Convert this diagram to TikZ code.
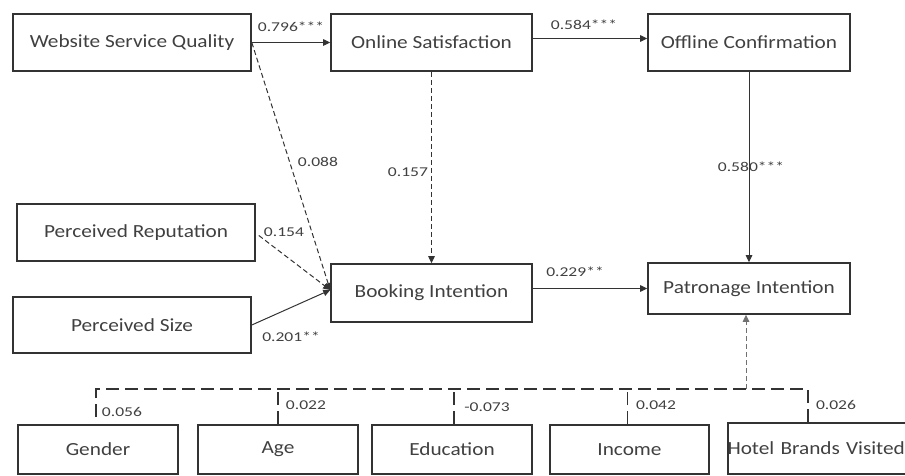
\documentclass[tikz,border=0pt]{standalone}
\usepackage{fontspec}
\setmainfont{Carlito}
\newfontfamily\boxfont[FakeStretch=1.15]{Carlito}
\newfontfamily\lblfont[FakeStretch=1.3]{Carlito}
\usetikzlibrary{arrows.meta}
\definecolor{linec}{HTML}{333333}
\definecolor{txtc}{HTML}{404040}
\begin{document}
\begin{tikzpicture}[x=1pt,y=-1pt,
  box/.style={draw=linec, line width=1.6pt, inner sep=0pt, text=txtc,
    font=\boxfont\fontsize{18.5}{21}\selectfont},
  lbl/.style={text=txtc, inner sep=0pt, font=\lblfont\fontsize{13.5}{15}\selectfont},
  arr/.style={draw=linec, line width=1pt, -{Triangle[length=7pt,width=6.5pt]}},
  darr/.style={arr, dash pattern=on 5pt off 3pt},
  brk/.style={draw=linec, line width=1.6pt, dash pattern=on 13pt off 6pt}]
\useasboundingbox (0,0) rectangle (905,476);
\clip (0,0) rectangle (905,476);
% top row
\node[box, minimum width=238pt, minimum height=57pt] (wsq) at (132,42.5) {Website Service Quality};
\node[box, minimum width=201pt, minimum height=57pt] (os) at (431.5,42.5) {Online Satisfaction};
\node[box, minimum width=202pt, minimum height=57pt] (oc) at (749,42.5) {Offline Confirmation};
% middle
\node[box, minimum width=238pt, minimum height=57pt] (pr) at (136,232.5) {Perceived Reputation};
\node[box, minimum width=238pt, minimum height=56pt] (ps) at (132,325) {Perceived Size};
\node[box, minimum width=201pt, minimum height=58pt] (bi) at (431.5,293) {Booking Intention};
\node[box, minimum width=202pt, minimum height=51pt] (pi) at (749,288.5) {Patronage Intention};
% bottom
\node[box, minimum width=160pt, minimum height=49pt] (gen) at (98,449.5) {Gender};
\node[box, minimum width=160pt, minimum height=49pt] (age) at (278,449.5) {Age};
\node[box, minimum width=160pt, minimum height=49pt] (edu) at (452,449.5) {Education};
\node[box, minimum width=159pt, minimum height=49pt] (inc) at (629.5,449.5) {Income};
\node[box, minimum width=200pt, minimum height=51pt, text width=198pt, align=left] (hot) at (828,448.5) {\hspace*{-1.5pt}Hotel Brands Visited};
% connectors
\draw[arr] (wsq.east) -- (os.west);
\draw[arr] ([yshift=4pt]os.east) -- ([yshift=4pt]oc.west);
\coordinate (bin) at ([yshift=3pt]bi.west);
\draw[darr] (wsq.east) -- (bin);
\draw[darr] ([shift={(3pt,-3pt)}]pr.east) -- (bin);
\draw[arr] (ps.east) -- (bin);
\draw[darr] (os.south) -- (bi.north);
\draw[arr] (oc.south) -- (pi.north);
\draw[arr] (bi.east |- pi.west) -- (pi.west);
% bracket
\coordinate (gstub) at (96,417);
\coordinate (gtop) at (96,389);
\coordinate (htop) at (808,389);
\draw[brk] (gstub) -- (gtop) -- (htop) -- (hot.north -| htop);
\draw[brk] (age.north) -- (age.north |- gtop);
\draw[brk] ([xshift=2pt]edu.north) -- ([xshift=2pt]edu.north |- gtop);
\draw[brk] ([xshift=-2pt]inc.north) -- ([xshift=-2pt]inc.north |- gtop);
\draw[darr, draw=linec!70] ([xshift=-3pt]pi.south |- gtop) -- ([xshift=-3pt]pi.south);
% labels
\node[lbl] (l1) at (291,27) {0.796***};
\node[lbl] (l2) at (584,25) {0.584***};
\node[lbl] (l3) at (318,162) {0.088};
\node[lbl] (l4) at (408,172) {0.157};
\node[lbl] (l5) at (284,232) {0.154};
\node[lbl] (l6) at (291,337) {0.201**};
\node[lbl] (l7) at (575,272) {0.229**};
\node[lbl] (l8) at (751,167) {0.580***};
\node[lbl] (l9) at (122,412) {0.056};
\node[lbl] (l10) at (306,405) {0.022};
\node[lbl] (l11) at (487,407) {-0.073};
\node[lbl] (l12) at (656,405) {0.042};
\node[lbl] (l13) at (836,405) {0.026};
\end{tikzpicture}
\end{document}
